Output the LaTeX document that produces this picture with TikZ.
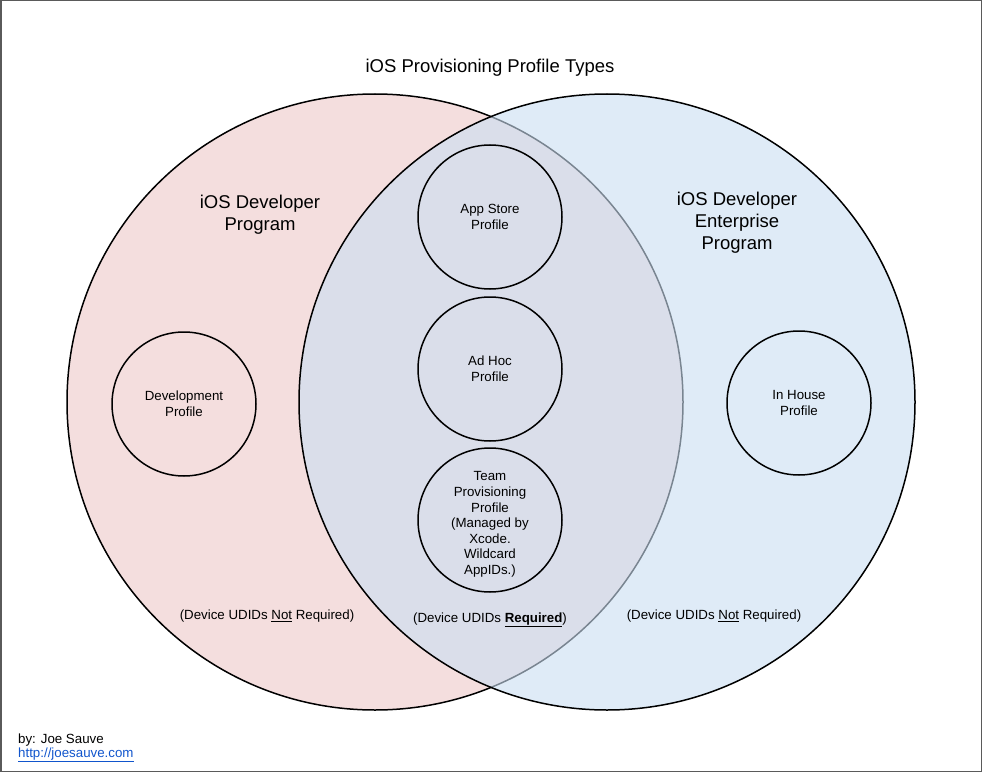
\documentclass[tikz,border=0pt]{standalone}
\usepackage{fontspec}
\setmainfont{Liberation Sans}
\usepackage{tikz}

\definecolor{devpink}{RGB}{244,222,222}
\definecolor{entblue}{RGB}{202,222,242}
\definecolor{linkblue}{RGB}{17,85,204}
\definecolor{framegray}{RGB}{90,90,90}

\tikzset{
  program/.style={circle,draw=black,line width=1.5pt,minimum size=616pt,inner sep=0pt},
  profile/.style={circle,draw=black,line width=1.5pt,minimum size=144pt,inner sep=0pt,align=center,
    font=\fontsize{13.3}{15.6}\selectfont},
  biglabel/.style={align=center,font=\fontsize{18.5}{22}\selectfont},
  note/.style={inner sep=0pt,font=\fontsize{13.3}{16}\selectfont},
}

\begin{document}
\begin{tikzpicture}[x=1pt,y=-1pt]
\useasboundingbox (0,0) rectangle (983,773);
\draw[framegray,line width=1.5pt] (0.75,0.75) rectangle (981.5,771.5);

% the two programs
\node[program,fill=devpink] (devprog) at (375,402) {};
\node[program,fill=entblue,fill opacity=0.6,draw opacity=1] (entprog) at (607,402) {};

\node[biglabel] (title) at (490,68) {iOS Provisioning Profile Types};
\node[biglabel] (devlabel) at (260,215) {iOS Developer\\Program};
\node[biglabel] (entlabel) at (737,223) {iOS Developer\\Enterprise\\Program};

% profiles
\node[profile] (appstore) at (490,217) {App Store\\Profile};
\node[profile] (adhoc) at (490,369) {Ad Hoc\\Profile};
\node[profile,label={[align=center,font=\fontsize{13.3}{15.6}\selectfont,yshift=-4.5pt]center:{Team\\Provisioning\\Profile\\(Managed by\\Xcode.\\Wildcard\\AppIDs.)}}] (team) at (490,520) {};
\node[profile] (development) at (184,404) {Development\\Profile};
\node[profile] (inhouse) at (799,403) {In House\\Profile};

\node[note] (devnote) at (267,616) {(Device UDIDs \underline{Not} Required)};
\node[note] (sharednote) at (490,620) {(Device UDIDs \textbf{\underline{Required}})};
\node[note] (entnote) at (714,616) {(Device UDIDs \underline{Not} Required)};

\node[note,anchor=west] (author) at (18,740) {by: Joe Sauve};
\node[note,anchor=west,text=linkblue] (link) at (18,755) {\underline{http://joesauve.com}};
\end{tikzpicture}
\end{document}
